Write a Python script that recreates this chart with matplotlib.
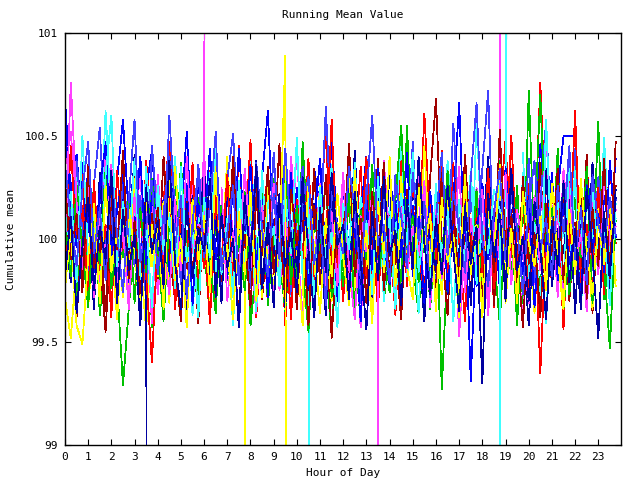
import numpy as np
import matplotlib
matplotlib.use("Agg")
import matplotlib.pyplot as plt

nan = np.nan
# Time points (hour of day), 15-minute steps
hours = [h / 4 for h in range(96)]

s01 = [100.21,99.88,100.05,100.34,99.76,100.12,99.95,100.41,100.08,99.71,100.26,99.93,
100.15,99.64,100.38,100.02,99.81,100.19,100.47,99.90,100.06,99.73,100.29,100.11,
99.86,100.33,99.69,100.14,100.02,99.79,100.45,99.97,100.22,99.62,100.09,100.31,
99.84,100.17,99.58,100.26,100.04,99.92,100.39,99.75,100.13,100.52,99.87,100.06,
99.70,100.24,99.96,100.35,99.81,100.10,99.65,100.28,100.01,99.89,100.43,99.77,
100.16,99.94,100.61,100.03,99.72,100.20,99.85,100.37,99.99,99.60,100.25,100.08,
99.83,100.32,99.67,100.14,100.48,99.91,100.07,99.74,100.27,99.98,100.76,100.05,
99.79,100.18,99.56,100.30,100.00,99.88,100.41,99.71,100.15,99.93,100.36,100.02]
s02 = [99.92,100.18,99.71,100.05,99.84,100.27,99.63,99.95,100.12,99.78,99.29,99.66,
100.03,99.81,100.22,99.57,99.90,100.16,99.74,100.31,99.86,100.04,99.69,100.20,
99.97,99.62,100.11,99.83,100.35,99.76,99.99,100.23,99.58,99.87,100.14,99.72,
100.29,99.91,99.65,100.08,99.80,100.47,99.94,99.68,100.19,99.85,99.54,100.02,
99.77,100.25,99.93,99.61,100.10,99.82,100.38,99.70,99.96,100.13,99.75,100.55,
99.88,99.64,100.06,99.79,100.21,99.27,99.90,100.15,99.73,100.32,99.84,100.01,
99.67,100.17,99.92,99.59,100.09,99.81,100.26,99.69,100.72,99.95,99.76,100.12,
99.83,100.44,99.66,99.98,100.20,99.74,100.03,99.87,100.57,99.71,99.93,100.10]
s03 = [100.68,100.22,100.41,100.05,100.33,99.86,100.18,100.47,99.97,100.29,100.58,100.11,
100.36,99.90,100.24,100.43,100.02,100.19,99.83,100.31,100.09,100.52,99.95,100.26,
100.14,99.78,100.37,100.06,100.21,99.92,100.44,100.01,100.17,99.74,100.30,100.62,
99.98,100.13,100.39,99.87,100.25,100.07,99.81,100.34,100.15,99.93,100.48,100.04,
99.89,100.28,99.71,100.12,100.40,99.96,100.20,99.79,100.35,100.00,100.55,99.91,
100.16,99.84,100.27,100.08,99.75,100.32,99.94,100.19,100.66,99.88,100.10,99.77,
100.24,100.03,99.86,100.38,99.97,100.14,99.69,100.29,100.05,99.92,100.46,100.11,
99.82,100.23,100.50,100.50,100.50,99.95,100.33,100.07,99.85,100.21,100.02,100.39]
s04 = [100.35,100.52,100.12,99.87,100.28,100.05,99.79,100.41,100.16,99.92,100.23,99.68,
100.09,100.31,99.85,100.18,99.73,100.04,100.37,99.90,100.14,99.66,100.26,99.97,
100.43,99.81,100.10,99.75,100.29,100.02,99.60,100.20,99.88,100.34,99.94,100.06,
99.71,100.22,99.84,100.40,99.99,99.63,100.15,99.86,100.27,99.74,100.08,99.93,
100.32,99.78,100.11,99.57,100.19,99.89,99.88,80.00,nan,99.96,99.70,100.13,
99.87,100.30,99.65,100.07,99.91,100.36,99.76,100.17,99.53,100.02,99.84,100.25,
99.95,99.69,100.12,100.18,120.00,nan,99.92,99.61,100.05,99.78,100.28,99.88,
100.16,99.72,100.34,99.99,99.83,100.09,99.67,100.23,99.90,100.47,99.77,100.14]
s05 = [100.12,99.86,100.30,100.05,99.74,100.21,99.95,100.62,100.09,99.80,100.27,99.91,
100.14,99.69,100.35,99.98,100.18,99.77,100.06,100.40,99.85,100.23,99.63,100.11,
99.93,100.32,99.79,100.16,100.01,99.58,100.25,99.88,100.44,99.96,99.72,100.19,
100.03,99.84,100.29,99.67,100.10,99.90,100.21,80.00,nan,99.97,100.36,99.75,
100.13,99.92,99.61,100.20,100.04,99.86,100.33,99.70,100.15,99.99,100.53,99.82,
100.08,99.64,100.26,99.94,100.11,99.78,100.38,100.00,99.87,100.22,99.68,100.59,
99.96,100.17,99.73,100.31,100.03,120.00,nan,100.42,99.76,100.14,99.98,99.59,
100.27,99.91,100.05,99.80,100.35,99.66,100.19,100.02,99.85,100.49,99.93,100.10]
s06 = [99.85,100.14,99.62,100.03,99.79,100.25,99.91,99.55,100.08,99.73,100.19,99.88,
100.31,99.67,99.97,100.12,99.81,100.40,99.94,99.70,100.17,99.86,100.05,99.59,
100.22,99.83,100.09,99.76,100.36,99.92,99.64,100.13,99.87,100.28,99.71,100.02,
99.95,100.46,99.80,100.07,99.66,100.21,99.90,100.34,99.78,100.10,99.52,99.98,
100.16,99.84,100.27,99.69,100.04,99.89,100.39,99.75,100.11,99.93,99.61,100.24,
99.82,100.06,99.72,100.30,100.68,99.96,99.63,100.18,99.85,100.01,99.74,100.15,
99.90,100.33,99.68,100.09,99.81,100.23,99.95,99.57,100.12,99.87,100.37,99.76,
100.03,99.92,100.20,99.70,100.08,99.83,100.41,99.64,100.14,99.97,99.79,100.26]
s07 = [99.71,99.52,99.88,100.15,99.67,100.04,99.83,100.22,99.95,99.61,100.10,99.78,
100.29,99.90,99.56,100.07,99.82,100.18,99.69,100.35,99.93,99.74,100.12,99.86,
100.02,99.63,100.24,99.88,100.40,99.77,100.09,99.84,80.00,nan,99.72,100.31,
99.85,100.05,99.66,100.20,99.94,99.58,100.13,99.81,100.26,99.98,99.70,100.08,
99.89,100.37,99.75,100.14,99.92,99.60,100.21,99.84,100.03,99.68,100.30,99.91,
100.11,99.79,100.45,99.87,100.06,99.73,100.19,99.96,99.62,100.27,99.83,100.01,
99.76,100.16,99.91,100.38,99.69,100.07,99.86,100.23,99.97,99.64,100.13,99.80,
100.32,99.93,99.71,100.10,99.85,100.25,99.99,99.66,100.18,99.88,100.04,99.77]
s08 = [100.19,99.93,100.38,100.06,99.81,100.27,100.54,99.97,100.14,99.74,100.32,100.02,
99.87,100.21,99.68,100.45,100.09,99.90,100.60,100.11,99.78,100.24,99.95,100.36,
100.04,99.82,100.17,99.70,100.29,100.51,99.98,100.12,99.76,100.33,100.07,99.89,
100.42,99.94,100.20,99.73,100.10,100.35,99.86,100.15,99.99,100.64,100.03,99.80,
100.26,99.92,100.13,99.69,100.40,100.05,99.88,100.22,99.75,100.31,100.08,99.95,
100.47,99.84,100.18,100.00,99.77,100.28,99.91,100.56,100.06,99.83,100.20,99.96,
100.34,100.72,99.87,100.14,99.72,100.25,100.02,99.90,100.39,99.79,100.16,100.58,
99.94,100.23,99.81,100.11,100.44,99.97,100.07,99.85,100.30,100.01,99.76,100.19]
s09 = [100.05,99.79,100.24,99.91,100.13,99.66,100.32,99.88,100.02,99.74,100.19,99.95,
100.41,99.83,100.08,80.00,nan,99.72,100.28,99.86,100.07,99.61,100.21,99.93,
100.35,99.80,100.11,99.69,100.26,99.98,99.57,100.14,99.85,100.38,99.76,100.04,
99.92,100.22,99.67,100.09,99.87,100.30,99.75,100.17,99.96,99.63,100.25,99.82,
100.06,99.90,100.43,99.78,100.12,99.65,100.20,99.94,100.33,99.71,100.03,99.86,
100.27,99.99,99.60,100.15,99.84,100.36,99.73,100.08,99.91,100.23,99.68,100.10,
99.95,100.40,99.81,100.18,99.70,100.29,99.89,100.01,99.58,100.13,99.87,100.34,
99.77,100.05,99.93,100.21,99.64,100.16,99.83,100.37,99.96,100.09,99.72,100.24]
s10 = [99.88,100.45,99.97,100.16,99.73,100.28,99.85,100.07,99.62,100.33,99.94,100.19,
99.70,100.11,99.82,99.40,100.02,99.87,100.24,99.66,100.14,99.91,100.37,99.78,
100.06,99.59,100.21,99.89,100.31,99.74,100.10,99.96,100.48,99.83,100.17,99.68,
100.27,99.92,100.04,99.61,100.19,99.86,100.35,99.75,100.12,99.98,100.58,99.81,
100.09,99.69,100.25,99.93,100.40,99.77,100.15,99.88,100.03,99.63,100.22,99.84,
100.30,99.95,99.72,100.18,99.90,100.43,99.80,100.08,99.66,100.26,99.97,100.13,
99.85,100.34,99.76,100.06,99.92,100.50,99.87,100.20,99.71,100.11,99.35,100.02,
100.29,99.82,100.16,99.94,100.62,99.79,100.07,99.89,100.25,99.73,100.14,99.98]
s11 = [100.08,99.82,100.26,99.95,99.67,100.13,99.88,100.34,99.76,100.04,99.91,100.20,
99.69,100.15,99.84,100.29,99.97,99.60,100.10,99.83,100.37,99.92,100.05,99.71,
100.23,99.89,99.64,100.17,99.80,100.32,99.99,99.75,100.12,99.87,100.25,99.68,
100.03,99.93,100.41,99.78,100.16,99.86,99.55,100.09,99.94,100.30,99.72,100.06,
99.85,100.22,99.62,100.14,99.90,100.36,99.81,100.02,99.74,100.19,100.55,99.96,
100.11,99.79,100.27,99.66,100.07,99.88,100.33,99.95,99.70,100.16,99.84,100.24,
99.63,100.01,99.92,100.38,99.77,100.10,99.58,100.20,99.89,100.05,100.70,99.97,
100.15,99.83,100.28,99.73,100.04,99.91,100.35,99.69,100.12,99.86,99.47,100.09]
s12 = [100.55,100.18,99.96,100.37,100.09,99.84,100.25,100.46,99.92,100.14,100.31,99.79,
100.06,100.40,99.88,100.21,100.02,99.75,100.33,100.12,99.94,100.27,99.68,100.17,
100.04,100.44,99.90,100.10,99.81,100.29,100.07,99.97,100.36,99.86,100.19,99.72,
100.24,100.01,99.83,100.32,99.95,100.15,99.77,100.08,100.39,99.89,100.13,99.70,
100.26,99.93,100.05,99.60,100.20,99.85,100.34,100.00,99.78,100.18,99.91,100.42,
99.82,100.11,99.69,100.23,99.96,100.30,99.74,100.09,99.87,100.16,99.31,100.03,
100.27,99.90,100.13,99.76,100.35,99.98,100.07,99.83,100.21,99.67,100.10,99.94,
100.32,99.80,100.17,99.88,100.04,99.71,100.26,99.95,100.12,99.84,100.38,100.01]
s13 = [99.95,100.76,100.18,99.83,100.29,99.72,100.10,99.91,100.36,99.78,100.05,99.66,
100.22,99.87,100.14,99.59,100.31,99.96,99.73,100.19,99.85,100.40,99.93,100.07,
100.04,120.00,nan,100.25,99.70,100.03,99.82,100.34,99.97,99.64,100.16,99.88,
100.27,99.75,100.09,99.92,100.45,99.80,100.02,99.68,100.20,99.90,100.13,99.77,
100.30,99.86,99.61,100.11,99.94,100.23,99.79,100.38,99.99,99.71,100.15,99.84,
100.06,99.92,100.28,99.67,100.17,99.81,100.04,99.95,100.35,99.74,100.10,99.87,
100.24,99.63,100.08,99.90,100.32,99.78,100.14,99.96,99.69,100.21,99.85,100.53,
99.93,100.11,99.76,100.27,99.88,100.02,99.65,100.19,99.83,100.31,99.97,100.06]
s14 = [100.02,100.23,99.79,100.50,99.92,100.14,99.70,100.31,100.60,99.87,100.18,99.96,
100.39,99.81,100.08,99.67,100.26,99.94,100.12,99.76,100.35,99.89,100.04,99.62,
100.20,99.91,100.44,99.83,100.10,99.72,100.28,99.98,100.15,99.65,100.33,99.86,
100.06,99.77,100.21,99.93,100.49,99.80,100.13,99.69,100.25,99.90,100.03,99.57,
100.17,99.95,100.37,99.82,100.09,99.73,100.30,99.88,100.11,99.66,100.22,99.97,
100.42,99.84,100.05,99.75,100.27,99.91,100.14,99.60,100.19,99.87,100.34,99.78,
100.07,99.93,100.24,100.14,80.00,nan,99.70,100.32,99.85,100.08,99.64,100.58,
99.90,100.20,99.79,100.36,99.96,100.11,99.74,100.26,99.89,100.03,99.68,100.17]
s15 = [100.28,99.90,100.12,99.74,100.36,99.86,100.04,99.65,100.21,99.95,100.43,99.81,
100.09,99.70,100.25,99.93,100.15,99.78,100.33,99.88,99.60,100.18,99.84,100.06,
99.96,100.29,99.73,100.11,99.89,100.40,99.79,100.02,99.67,100.20,99.92,100.35,
99.83,100.07,99.71,100.24,99.97,100.13,99.58,100.16,99.87,100.31,99.76,100.05,
99.94,100.46,99.82,100.10,99.69,100.23,99.91,100.37,99.80,100.01,99.63,100.19,
99.86,100.27,99.97,100.08,99.72,100.32,99.89,100.14,99.77,100.41,99.93,100.06,
99.68,100.22,99.84,100.53,99.95,100.12,99.75,100.30,99.88,100.03,99.62,100.17,
99.92,100.34,99.79,100.09,99.98,100.25,99.71,100.15,99.87,100.39,99.81,100.47]
s16 = [99.76,100.05,99.58,99.49,99.91,100.17,99.69,100.26,99.84,100.03,99.72,100.14,
99.95,99.63,100.21,99.87,100.08,99.66,100.30,99.80,100.00,99.57,100.19,99.90,
100.11,99.74,100.35,99.86,99.97,99.61,100.13,99.83,100.24,99.70,100.06,99.92,
99.78,99.95,100.89,80.00,nan,99.73,100.28,99.95,99.64,100.10,99.82,100.22,
99.91,99.68,100.33,99.85,100.04,99.59,100.18,99.93,100.40,99.77,100.09,99.86,
99.71,100.25,99.96,100.12,99.65,100.20,99.89,100.02,99.74,100.31,99.84,100.07,
99.62,100.15,99.92,100.36,99.79,100.05,99.69,100.23,99.98,99.87,100.11,99.75,
100.27,99.90,99.66,100.14,99.83,100.29,99.95,99.73,100.08,99.88,100.19,99.80]
s17 = [100.36,100.09,99.87,100.24,100.47,99.93,100.15,99.80,100.31,100.02,99.74,100.19,
100.58,99.89,100.06,100.28,99.83,100.12,100.40,99.96,100.21,99.71,100.08,100.33,
99.91,100.16,100.52,99.85,100.03,100.26,99.78,100.13,99.95,100.37,100.05,99.82,
100.22,99.90,100.44,100.01,99.76,100.17,100.30,99.88,100.10,99.68,100.25,100.04,
99.93,100.35,100.14,99.81,100.20,100.60,99.97,100.07,99.79,100.27,100.11,99.86,
100.32,99.99,100.18,99.72,100.09,100.42,99.92,100.23,100.05,99.84,100.29,100.66,
100.00,99.77,100.13,100.34,99.89,100.21,100.06,99.73,100.16,100.38,99.94,100.10,
99.82,100.26,100.03,100.45,99.90,100.15,99.78,100.31,100.07,99.96,100.20,100.02]
s18 = [99.82,100.11,99.64,99.96,100.20,99.75,100.06,99.90,100.33,99.69,100.14,99.85,
100.02,99.58,100.25,99.93,100.09,99.77,100.38,99.88,99.66,100.17,99.81,100.05,
99.94,100.29,99.72,100.12,99.86,100.00,99.60,100.21,99.91,100.36,99.79,100.08,
99.67,100.18,99.87,100.03,99.74,100.27,99.95,99.62,100.15,99.84,100.32,99.97,
100.07,99.71,100.23,99.89,99.56,100.13,99.80,100.30,99.92,100.04,99.68,100.19,
99.86,100.40,99.98,99.73,100.10,99.83,100.26,99.94,99.65,100.16,99.88,100.06,
99.30,100.22,99.91,100.12,99.76,100.34,99.85,100.01,99.70,100.18,99.95,99.61,
100.09,99.87,100.28,99.79,100.05,99.66,100.24,99.93,99.52,100.13,99.82,100.20]

series = [s01, s02, s03, s04, s05, s06, s07, s08, s09,
          s10, s11, s12, s13, s14, s15, s16, s17, s18]
palette = ["#ff0000", "#00c000", "#0000ff", "#ff40ff", "#40ffff",
           "#a00000", "#ffff00", "#4040ff", "#0000a0"]

ytick_vals = [99, 99.5, 100, 100.5, 101]
ytick_labels = ["99", "99.5", "100", "100.5", "101"]
xtick_vals = list(range(24))

mono = "DejaVu Sans Mono"
fig = plt.figure(figsize=(6.4, 4.8), dpi=100)
ax = fig.add_axes([65/640, 1 - 445/480, (621 - 65)/640, (445 - 33)/480])

for i, s in enumerate(series):
    ax.plot(hours, s, color=palette[i % len(palette)], lw=0.55,
            antialiased=False)

ax.set_xlim(0, 23.98)
ax.set_ylim(99, 101)
ax.set_xticks(xtick_vals)
ax.set_xticklabels([str(v) for v in xtick_vals], fontfamily=mono, fontsize=8)
ax.set_yticks(ytick_vals)
ax.set_yticklabels(ytick_labels, fontfamily=mono, fontsize=8)
ax.tick_params(direction="in", length=4.5, width=0.8, top=True, right=True,
               pad=5, colors="black")
for sp in ax.spines.values():
    sp.set_linewidth(1.0)
    sp.set_color("black")
    sp.set_zorder(5)

ax.set_title("Running Mean Value", fontfamily=mono, fontsize=8, pad=11)
ax.set_xlabel("Hour of Day", fontfamily=mono, fontsize=8, labelpad=4)
ax.set_ylabel("Cumulative mean", fontfamily=mono, fontsize=8, labelpad=6)

fig.savefig("out.png", dpi=100)
